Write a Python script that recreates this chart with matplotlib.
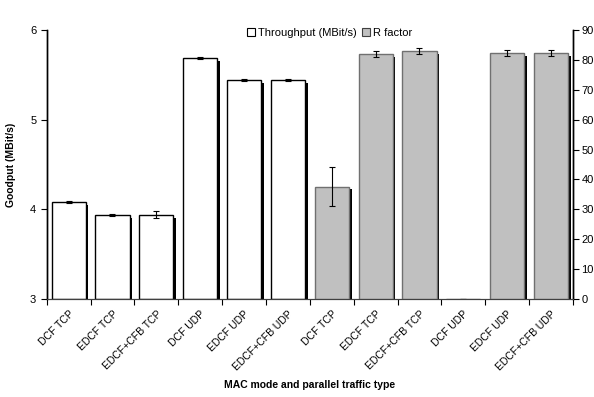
import numpy as np
import matplotlib.pyplot as plt
import matplotlib.patheffects as pe
from matplotlib.patches import Patch

plt.rcParams['font.family'] = ['Liberation Sans', 'DejaVu Sans']

categories = ['DCF TCP', 'EDCF TCP', 'EDCF+CFB TCP', 'DCF UDP', 'EDCF UDP', 'EDCF+CFB UDP',
              'DCF TCP', 'EDCF TCP', 'EDCF+CFB TCP', 'DCF UDP', 'EDCF UDP', 'EDCF+CFB UDP']

# goodput of the parallel traffic (first six groups)
throughput = [4.08, 3.94, 3.94, 5.69, 5.44, 5.44]
throughput_err = [0.01, 0.01, 0.04, 0.01, 0.01, 0.01]

# voice quality (last six groups)
r_factor = [37.6, 82.0, 82.9, 0.0, 82.2, 82.2]
r_factor_err = [6.5, 1.0, 1.0, 0.0, 1.0, 1.0]

x = np.arange(len(categories))
x_tp = x[:6]
x_r = x[6:]

fig = plt.figure(figsize=(5.94, 3.97), dpi=100)
ax = fig.add_axes([0.0786, 0.247, 0.886, 0.677])
ax2 = ax.twinx()

shadow = [pe.SimplePatchShadow(offset=(2, -2), shadow_rgbFace='black', alpha=1), pe.Normal()]
w = 0.78

ax.bar(x_tp, [t - 3 for t in throughput], width=w, bottom=3, color='white',
       edgecolor='black', linewidth=1, path_effects=shadow)
ax.errorbar(x_tp, throughput, yerr=throughput_err, fmt='none', ecolor='black',
            elinewidth=0.8, capsize=2.5, capthick=0.8)

ax2.bar(x_r, r_factor, width=w, color='#c0c0c0', edgecolor='#707070', linewidth=1,
        path_effects=shadow)
ax2.errorbar(x_r, r_factor, yerr=r_factor_err, fmt='none', ecolor='black',
             elinewidth=0.8, capsize=2.5, capthick=0.8)

ax.set_xlim(-0.5, len(categories) - 0.5)
ax.set_ylim(3, 6)
ax.set_yticks([3, 4, 5, 6])
ax2.set_ylim(0, 90)
ax2.set_yticks(range(0, 91, 10))

ax.set_xticks(x)
ax.set_xticklabels(categories, rotation=45, ha='right', rotation_mode='anchor', fontsize=7.5)
ax.set_xticks(np.arange(-0.5, len(categories), 1), minor=True)
ax.tick_params(axis='x', which='major', length=0, pad=7)
ax.tick_params(axis='x', which='minor', length=4, width=0.8, direction='out')
ax.tick_params(axis='y', labelsize=8, length=4, width=0.8)
ax2.tick_params(axis='y', labelsize=8, length=4, width=0.8, pad=2)

for a in (ax, ax2):
    a.spines['top'].set_visible(False)
    a.spines['left'].set_linewidth(1)
    a.spines['right'].set_linewidth(1)
    a.spines['bottom'].set_color('#404040')

ax.set_ylabel('Goodput (MBit/s)', fontsize=7.5, fontweight='bold', labelpad=10)
ax.set_xlabel('MAC mode and parallel traffic type', fontsize=7.5, fontweight='bold', labelpad=6)

handles = [Patch(facecolor='white', edgecolor='black', linewidth=0.8),
           Patch(facecolor='#c0c0c0', edgecolor='#404040', linewidth=0.8)]
fig.legend(handles, ['Throughput (MBit/s)', 'R factor'], loc='center',
           bbox_to_anchor=(0.555, 0.918), ncol=2, frameon=False, fontsize=8,
           handlelength=0.7, handleheight=0.7, handletextpad=0.3, columnspacing=0.5)

fig.savefig('out.png', dpi=100)
